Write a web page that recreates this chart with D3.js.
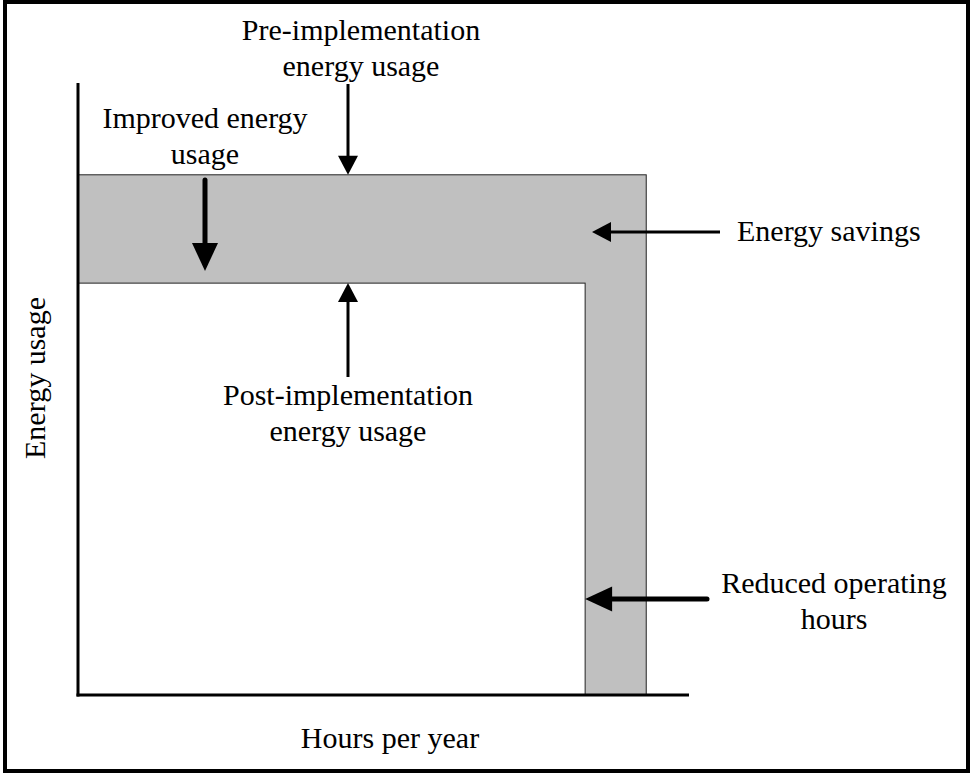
<!DOCTYPE html>
<html>
<head>
<meta charset="UTF-8">
<script src="https://d3js.org/d3.v7.min.js"></script>
<style>
  body { margin: 0; background: #fff; }
</style>
</head>
<body>
<svg></svg>
<script>

// scenario values (abstract units, 0-100)
var hours = ["Pre", "Post"];
var hoursPerYear = [93, 83];
var energyUsage = [85, 67.3];

var labelPre = ["Pre-implementation", "energy usage"];
var labelPost = ["Post-implementation", "energy usage"];
var labelImproved = ["Improved energy", "usage"];
var labelSavings = ["Energy savings"];
var labelReduced = ["Reduced operating", "hours"];
var axisX = "Hours per year";
var axisY = "Energy usage";

var width = 970, height = 773;
var serif = "'Liberation Serif', 'Times New Roman', Times, 'DejaVu Serif', serif";

var svg = d3.select("svg")
    .attr("width", width)
    .attr("height", height)
    .style("font-family", serif)
    .style("font-size", "30px");

var x = d3.scaleLinear().domain([0, 100]).range([78, 689]);
var y = d3.scaleLinear().domain([0, 100]).range([695, 83]);

// outer frame
svg.append("rect")
    .attr("x", 5).attr("y", 2)
    .attr("width", 963).attr("height", 769)
    .attr("fill", "none")
    .attr("stroke", "#000")
    .attr("stroke-width", 4);

// blocks: pre (gray) then post (white) on top
svg.append("g").selectAll("rect")
  .data(hours)
  .enter().append("rect")
    .attr("x", x(0))
    .attr("y", (d, i) => y(energyUsage[i]))
    .attr("width", (d, i) => x(hoursPerYear[i]) - x(0))
    .attr("height", (d, i) => y(0) - y(energyUsage[i]))
    .attr("fill", (d, i) => i == 0 ? "#c0c0c0" : "#fff")
    .attr("stroke", "#222")
    .attr("stroke-width", 1);

// axes lines
svg.append("line")
    .attr("x1", x(0)).attr("x2", x(0))
    .attr("y1", y(100)).attr("y2", y(0) + 1.5)
    .attr("stroke", "#000").attr("stroke-width", 3);
svg.append("line")
    .attr("x1", x(0) - 1.5).attr("x2", x(100))
    .attr("y1", y(0)).attr("y2", y(0))
    .attr("stroke", "#000").attr("stroke-width", 3);

// arrow helper: shaft from (x1,y1) to tip (x2,y2)
function arrow(x1, y1, x2, y2, w, headLen, headHalf) {
  var a = Math.atan2(y2 - y1, x2 - x1);
  var bx = x2 - headLen * Math.cos(a), by = y2 - headLen * Math.sin(a);
  svg.append("line")
      .attr("x1", x1).attr("y1", y1)
      .attr("x2", bx + Math.cos(a) * 2).attr("y2", by + Math.sin(a) * 2)
      .attr("stroke", "#000").attr("stroke-width", w)
      .attr("stroke-linecap", w > 3 ? "round" : "butt");
  var px = -Math.sin(a) * headHalf, py = Math.cos(a) * headHalf;
  svg.append("path")
      .attr("d", "M" + x2 + "," + y2 + "L" + (bx + px) + "," + (by + py) + "L" + (bx - px) + "," + (by - py) + "Z")
      .attr("fill", "#000");
}

var preTop = y(energyUsage[0]), postTop = y(energyUsage[1]);
var preRight = x(hoursPerYear[0]), postRight = x(hoursPerYear[1]);

arrow(348, 84, 348, preTop, 3, 19, 10);
arrow(348, 377, 348, postTop, 3, 19, 10);
arrow(205, 180, 205, 271, 5, 28, 13);
arrow(720, 232, 592, 232, 3, 19, 10);
arrow(707, 599, postRight, 599, 5, 27, 12.5);

function label(lines, cx, by, anchor) {
  var t = svg.append("text")
      .attr("font-family", serif)
      .attr("text-anchor", anchor || "middle");
  lines.forEach(function(s, i) {
    t.append("tspan").attr("x", cx).attr("y", by + i * 36).text(s);
  });
}

label(labelPre, 361, 40);
label(labelImproved, 205, 128);
label(labelSavings, 737, 241, "start");
label(labelPost, 348, 405);
label(labelReduced, 834, 593);

svg.append("text")
    .attr("font-family", serif)
    .attr("text-anchor", "middle")
    .attr("x", 390).attr("y", 748)
    .text(axisX);

svg.append("text")
    .attr("font-family", serif)
    .attr("text-anchor", "middle")
    .attr("transform", "translate(45,378) rotate(-90)")
    .text(axisY);

</script>
</body>
</html>
